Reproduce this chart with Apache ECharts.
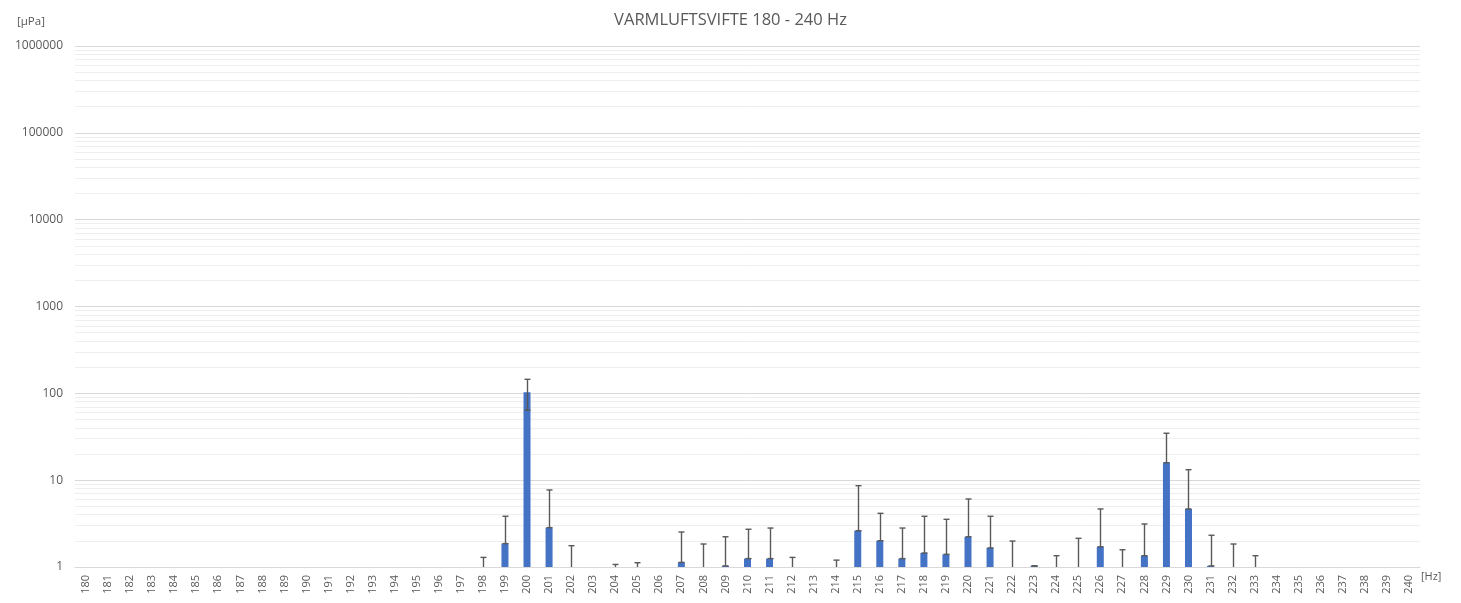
<!DOCTYPE html>
<html>
<head>
<meta charset="utf-8">
<title>VARMLUFTSVIFTE 180 - 240 Hz</title>
<script src="https://cdn.jsdelivr.net/npm/echarts@6/dist/echarts.min.js"></script>
<style>
  html, body { margin: 0; padding: 0; background: #fff; }
  #chart { width: 1461px; height: 603px; }
</style>
</head>
<body>
<div id="chart"></div>
<script>
// frequencies [Hz]
var hz = ['180', '181', '182', '183', '184', '185', '186', '187', '188', '189',
  '190', '191', '192', '193', '194', '195', '196', '197', '198', '199',
  '200', '201', '202', '203', '204', '205', '206', '207', '208', '209',
  '210', '211', '212', '213', '214', '215', '216', '217', '218', '219',
  '220', '221', '222', '223', '224', '225', '226', '227', '228', '229',
  '230', '231', '232', '233', '234', '235', '236', '237', '238', '239', '240'];

// mean amplitude [µPa], values under 1 fall below the axis
var amplitude = [null, null, null, null, null, null, null, null, null, null,
  null, null, null, null, null, null, null, null, 0.4, 1.86,
  103, 2.84, 0.4, null, 0.4, 0.4, null, 1.13, 0.4, 1.03,
  1.25, 1.25, 0.4, null, 0.4, 2.62, 2.01, 1.25, 1.45, 1.4,
  2.23, 1.66, 0.4, 1.03, 0.4, 0.4, 1.71, 0.4, 1.35, 15.9,
  4.66, 1.03, 0.4, 0.4, null, null, null, null, null, null, null];

// error bars (plus / minus)
var errPlus = [null, null, null, null, null, null, null, null, null, null,
  null, null, null, null, null, null, null, null, 0.89, 1.98,
  42, 4.87, 1.36, null, 0.67, 0.72, null, 1.4, 1.44, 1.2,
  1.47, 1.56, 0.89, null, 0.8, 6.02, 2.14, 1.56, 2.39, 2.14,
  3.84, 2.18, 1.59, 0, 0.95, 1.74, 2.95, 1.18, 1.78, 18.8,
  8.54, 1.29, 1.44, 0.95, null, null, null, null, null, null, null];
var errMinus = [null, null, null, null, null, null, null, null, null, null,
  null, null, null, null, null, null, null, null, 0, 0,
  39, 0, 0, null, 0, 0, null, 0, 0, 0,
  0, 0, 0, null, 0, 0, 0, 0, 0, 0,
  0, 0, 0, 0, 0, 0, 0, 0, 0, 0,
  0, 0, 0, 0, null, null, null, null, null, null, null];

var yTicks = [1, 10, 100, 1000, 10000, 100000, 1000000];

var chart = echarts.init(document.getElementById('chart'));

// light minor grid lines 2..9 in every decade
var minorLines = [];
for (var d = 0; d < yTicks.length - 1; d++) {
  for (var m = 2; m <= 9; m++) {
    minorLines.push({ yAxis: m * yTicks[d] });
  }
}

var barData = amplitude.map(function (v) { return v !== null && v >= 1 ? v : '-'; });
var errData = [];
for (var i = 0; i < hz.length; i++) {
  if (amplitude[i] === null) continue;
  errData.push([i, amplitude[i], errPlus[i], errMinus[i]]);
}

chart.setOption({
  animation: false,
  title: {
    text: 'VARMLUFTSVIFTE 180 - 240 Hz',
    left: 'center',
    top: 7,
    textStyle: {
      fontFamily: 'Open Sans',
      fontSize: 16.5,
      fontWeight: 'normal',
      color: '#595959'
    }
  },
  grid: {
    left: 75,
    right: 41,
    top: 46,
    bottom: 36
  },
  graphic: [
    {
      type: 'text',
      left: 17,
      top: 16,
      style: { text: '[µPa]', fontFamily: 'Open Sans', fontSize: 11.5, fill: '#595959' }
    },
    {
      type: 'text',
      left: 1421,
      top: 571,
      style: { text: '[Hz]', fontFamily: 'Open Sans', fontSize: 11, fill: '#595959' }
    }
  ],
  xAxis: {
    type: 'category',
    data: hz,
    boundaryGap: true,
    axisTick: { show: false },
    axisLine: { lineStyle: { color: '#D9D9D9' } },
    axisLabel: {
      rotate: 90,
      interval: 0,
      margin: 8,
      fontFamily: 'Open Sans',
      fontSize: 11,
      color: '#595959'
    }
  },
  yAxis: {
    type: 'log',
    logBase: 10,
    min: 1,
    max: 1000000,
    axisLine: { show: false },
    axisTick: { show: false },
    axisLabel: {
      margin: 12,
      fontFamily: 'Open Sans',
      fontSize: 12,
      color: '#595959',
      formatter: function (v) { return String(Math.round(v)); }
    },
    splitLine: { lineStyle: { color: '#D9D9D9', width: 1 } }
  },
  series: [
    {
      // only carries the minor grid
      type: 'line',
      data: [],
      z: 1,
      silent: true,
      markLine: {
        silent: true,
        z: 1,
        symbol: 'none',
        label: { show: false },
        lineStyle: { color: '#EEEEEE', type: 'solid', width: 1 },
        data: minorLines
      }
    },
    {
      type: 'bar',
      data: barData,
      barWidth: 7,
      z: 5,
      itemStyle: { color: '#4472C4' }
    },
    {
      type: 'custom',
      z: 6,
      data: errData,
      renderItem: function (params, api) {
        var idx = api.value(0);
        var val = api.value(1);
        var top = val + api.value(2);
        var low = val - api.value(3);
        if (top <= 1) return;
        var capLow = low >= 1;
        if (low < 1) low = 1;
        var p1 = api.coord([idx, top]);
        var p2 = api.coord([idx, low]);
        var x = Math.round(p1[0]) + 0.5;
        var half = 3;
        var style = { stroke: '#595959', lineWidth: 1.4 };
        var children = [
          { type: 'line', shape: { x1: x, y1: p1[1], x2: x, y2: p2[1] }, style: style },
          { type: 'line', shape: { x1: x - half, y1: p1[1], x2: x + half, y2: p1[1] }, style: style }
        ];
        if (capLow) {
          children.push({ type: 'line', shape: { x1: x - half, y1: p2[1], x2: x + half, y2: p2[1] }, style: style });
        }
        return { type: 'group', children: children };
      }
    }
  ]
});
</script>
</body>
</html>
